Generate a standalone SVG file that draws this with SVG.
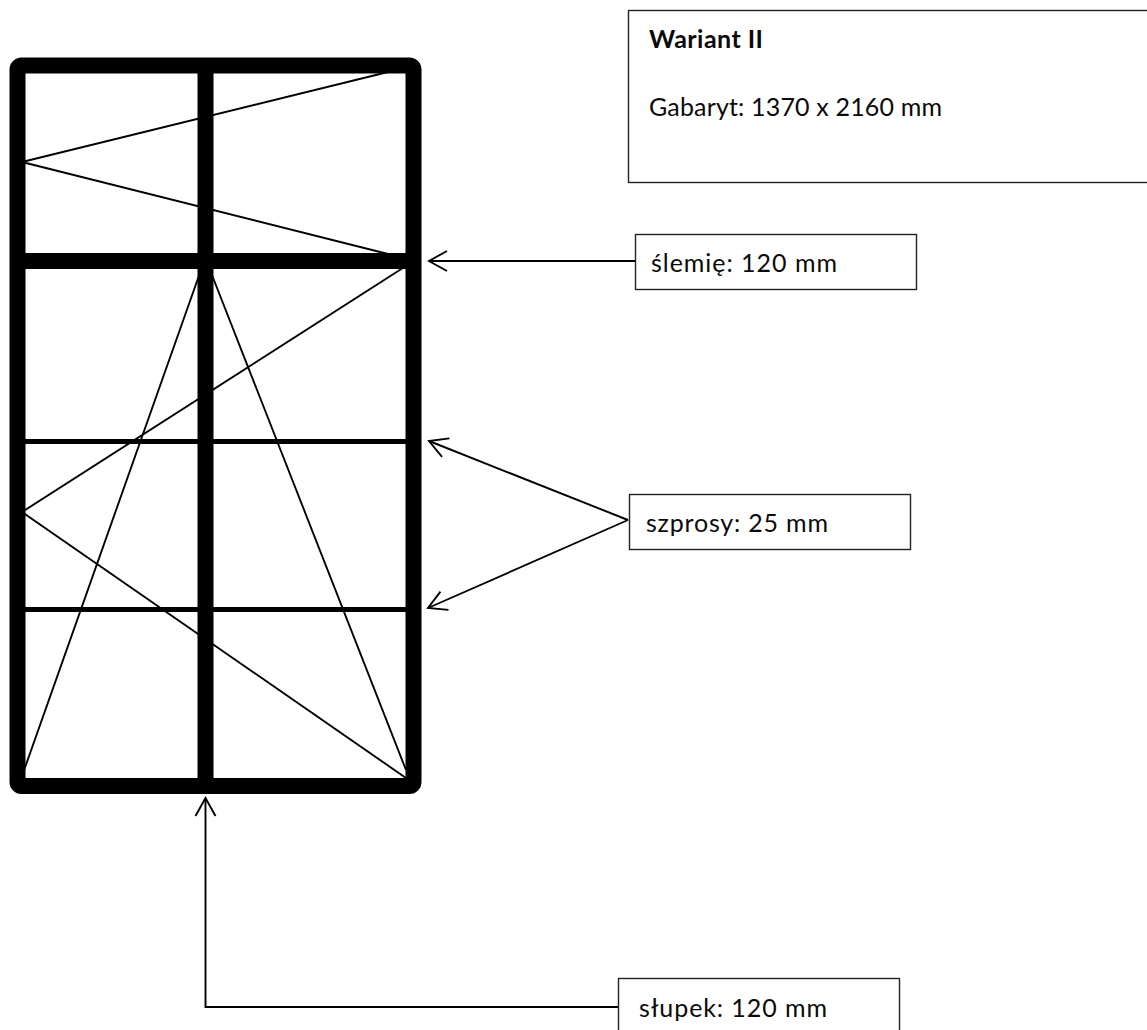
<svg xmlns="http://www.w3.org/2000/svg" width="1147" height="1030" viewBox="0 0 1147 1030">
<style>
text{font-family:"Lato","Open Sans","Liberation Sans",sans-serif;font-size:25px;fill:#0a0a0a}
.box{fill:#fff;stroke:#222;stroke-width:1.4}
.c{fill:none;stroke:#000;stroke-width:1.9}
.thin{fill:none;stroke:#000;stroke-width:1.9}
.bar{fill:none;stroke:#000;stroke-linejoin:round}
</style>
<defs>
<marker id="arrow" markerUnits="userSpaceOnUse" markerWidth="24" markerHeight="24" refX="22" refY="12" orient="auto" viewBox="0 0 24 24">
<path d="M4 2 L22 12 L4 22" fill="none" stroke="#000" stroke-width="1.9"/>
</marker>
</defs>
<rect width="1147" height="1030" fill="#fff"/>
<g id="window">
<path class="thin" d="M22 162 L388 72 M22 162 L388 254 M406 266 L22 512 L406 778 M22 776 L201 270 M210 270 L406 770"/>
<path class="bar" stroke-width="5" d="M25 441.500 H406 M25 609.500 H406"/>
<path class="bar" stroke-width="16" d="M205.500 73 V778 M25 261 H406"/>
<rect class="bar" x="17.500" y="65.500" width="396" height="720.500" rx="4" stroke-width="16"/>
</g>
<g id="connectors">
<path class="c" d="M635 261 H429" marker-end="url(#arrow)"/>
<path class="c" d="M628 520 L429 441" marker-end="url(#arrow)"/>
<path class="c" d="M628 520 L428 608" marker-end="url(#arrow)"/>
<path class="c" d="M618 1007 H205.500 V798" marker-end="url(#arrow)"/>
</g>
<g id="node-info">
<rect class="box" x="628.500" y="10.500" width="530" height="172"/>
<text x="649" y="48" font-weight="700" textLength="114">Wariant II</text>
<text x="649" y="116" textLength="293">Gabaryt: 1370 x 2160 mm</text>
</g>
<g id="node-slemie">
<rect class="box" x="635.500" y="234.500" width="281" height="55"/>
<text x="651" y="272" textLength="186">ślemię: 120 mm</text>
</g>
<g id="node-szprosy">
<rect class="box" x="629.500" y="494.500" width="281" height="55"/>
<text x="646" y="532" textLength="182">szprosy: 25 mm</text>
</g>
<g id="node-slupek">
<rect class="box" x="618.500" y="978.500" width="281" height="60"/>
<text x="639" y="1017" textLength="188">słupek: 120 mm</text>
</g>
</svg>
